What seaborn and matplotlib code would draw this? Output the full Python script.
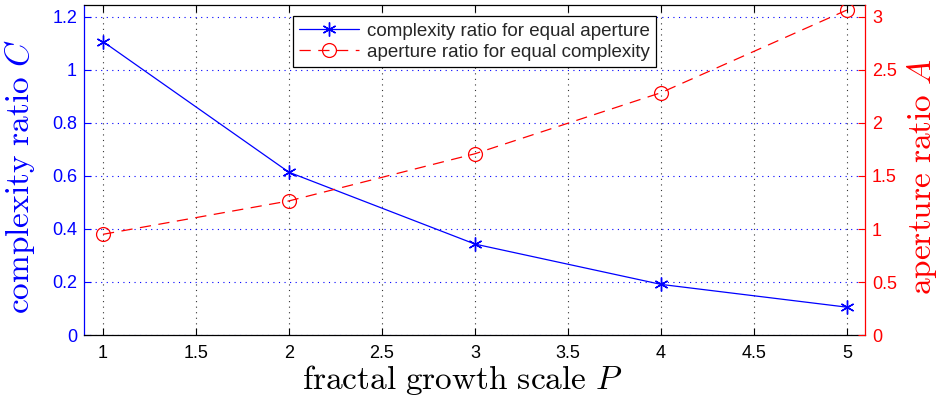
import matplotlib
matplotlib.use("Agg")
import matplotlib.pyplot as plt
import seaborn as sns
import pandas as pd

# growth scale values
P = [1, 2, 3, 4, 5]
# complexity ratio at equal aperture (left axis)
complexity_ratio = [1.107, 0.614, 0.343, 0.191, 0.105]
# aperture ratio at equal complexity (right axis)
aperture_ratio = [0.95, 1.265, 1.71, 2.286, 3.066]

x_ticks = [1, 1.5, 2, 2.5, 3, 3.5, 4, 4.5, 5]
left_ticks = [0, 0.2, 0.4, 0.6, 0.8, 1, 1.2]
right_ticks = [0, 0.5, 1, 1.5, 2, 2.5, 3]

sns.set_style("white")
plt.rcParams["font.family"] = ["Liberation Sans", "DejaVu Sans"]
plt.rcParams["mathtext.fontset"] = "cm"

df = pd.DataFrame({"P": P, "C": complexity_ratio, "A": aperture_ratio})

fig = plt.figure(figsize=(9.41, 4.03), dpi=100)
ax = fig.add_axes([0.0893, 0.1687, 0.8300, 0.8189])
ax2 = ax.twinx()

blue = "#0000ff"
red = "#ff0000"

# six-armed asterisk marker
asterisk = (6, 2, 0)

sns.lineplot(data=df, x="P", y="C", ax=ax, color=blue, marker=asterisk,
             markersize=10, markeredgewidth=1.0, markeredgecolor=blue,
             linewidth=0.9, label="complexity ratio for equal aperture",
             legend=False)
sns.lineplot(data=df, x="P", y="A", ax=ax2, color=red, marker="o",
             markersize=10, markerfacecolor="none", markeredgecolor=red,
             markeredgewidth=0.9, linewidth=0.9,
             label="aperture ratio for equal complexity", legend=False)
ax2.lines[0].set_linestyle((0, (9, 6)))

ax.set_xlim(0.898, 5.097)
ax.set_ylim(0, 1.245)
ax2.set_ylim(0, 3.113)

ax.set_xticks(x_ticks)
ax.set_xticklabels([f"{v:g}" for v in x_ticks])
ax.set_yticks(left_ticks)
ax.set_yticklabels([f"{v:g}" for v in left_ticks])
ax2.set_yticks(right_ticks)
ax2.set_yticklabels([f"{v:g}" for v in right_ticks])

# MATLAB-like inward ticks
ax.tick_params(axis="x", direction="in", length=5, width=0.8, colors="black",
               labelsize=13, top=True, bottom=True, pad=7)
ax.tick_params(axis="y", direction="in", length=5, width=0.8, colors=blue,
               labelsize=13, left=True, right=False, pad=5)
ax2.tick_params(axis="y", direction="in", length=5, width=0.8, colors=red,
                labelsize=13, right=True, left=False, pad=5)

for s in ["top", "bottom"]:
    ax.spines[s].set_color("black")
    ax.spines[s].set_linewidth(0.9)
ax.spines["left"].set_color(blue)
ax.spines["left"].set_linewidth(0.9)
ax.spines["right"].set_visible(False)
for s in ["top", "bottom", "left"]:
    ax2.spines[s].set_visible(False)
ax2.spines["right"].set_color(red)
ax2.spines["right"].set_linewidth(0.9)

# dotted grid: vertical lines dark gray, horizontal lines blue
ax.xaxis.grid(True, linestyle=(0, (1, 4)), color="#333333", linewidth=0.8)
ax.yaxis.grid(True, linestyle=(0, (1, 4)), color=blue, linewidth=0.8)
ax.set_axisbelow(True)

ax.set_xlabel(r"$\mathrm{fractal\ growth\ scale}\ P$", fontsize=24,
              color="black")
ax.xaxis.set_label_coords(0.484, -0.085)
ax.set_ylabel(r"$\mathrm{complexity\ ratio}\ C$", fontsize=24, color=blue)
ax2.set_ylabel(r"$\mathrm{aperture\ ratio}\ A$", fontsize=24, color=red,
               rotation=90)
ax.yaxis.set_label_coords(-0.060, 0.48)
ax2.yaxis.set_label_coords(1.051, 0.48)

h1, l1 = ax.get_legend_handles_labels()
h2, l2 = ax2.get_legend_handles_labels()
leg = ax2.legend(h1 + h2, l1 + l2, loc="upper center",
                 bbox_to_anchor=(0.5, 0.995), fontsize=13.5, frameon=True,
                 fancybox=False, edgecolor="black", framealpha=1,
                 borderpad=0.35, labelspacing=0.2, handlelength=3.2,
                 handletextpad=0.4)
leg.get_frame().set_linewidth(0.9)

fig.savefig("out.png", dpi=100)
